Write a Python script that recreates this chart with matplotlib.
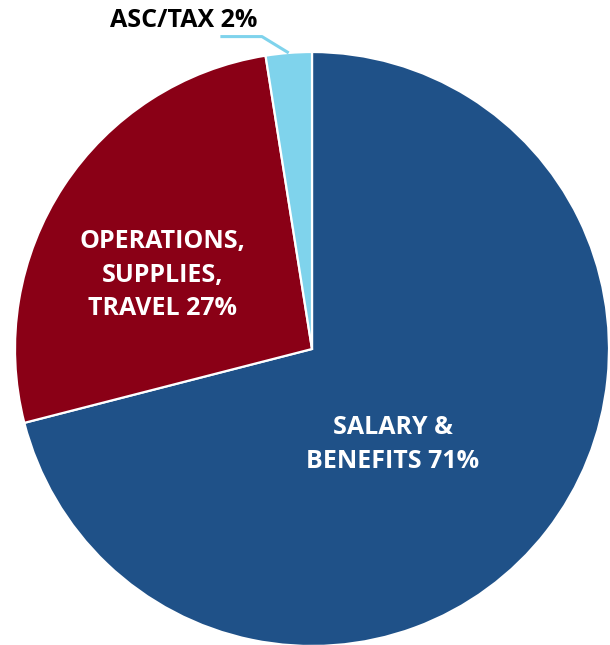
import numpy as np
import matplotlib.pyplot as plt

# budget split
categories = ["SALARY &\nBENEFITS", "OPERATIONS,\nSUPPLIES,\nTRAVEL", "ASC/TAX"]
shares = [71.0, 26.5, 2.5]
pct_labels = ["71%", "27%", "2%"]
colors = ["#1F5188", "#8A0016", "#7FD3EC"]

plt.rcParams['font.family'] = ['Open Sans', 'DejaVu Sans']

W, H = 610, 645
cx, cy, R = 312, 349, 297
fig = plt.figure(figsize=(W / 100, H / 100), dpi=100)
ax = fig.add_axes([0, 0, 1, 1])

wedges, _ = ax.pie(shares, colors=colors, startangle=90, counterclock=False,
                   radius=1.0, wedgeprops=dict(edgecolor='white', linewidth=1.6))
ax.set_xlim(-cx / R, (W - cx) / R)
ax.set_ylim(-(H - cy) / R, cy / R)
ax.set_aspect('equal')
ax.axis('off')

# labels inside the two big slices (radius, angle offset from slice middle)
label_pos = [(0.42, -12), (0.56, 7)]
for w, cat, pct, (r, dang) in zip(wedges[:2], categories[:2], pct_labels[:2], label_pos):
    ang = np.deg2rad((w.theta1 + w.theta2) / 2 + dang)
    lines = cat.split("\n")
    lines[-1] = lines[-1] + " " + pct
    ax.text(r * np.cos(ang), r * np.sin(ang), "\n".join(lines), ha='center', va='center',
            color='white', fontsize=18, fontweight='bold', linespacing=1.45)

# small slice: leader line and outside label
w = wedges[2]
ang = np.deg2rad((w.theta1 + w.theta2) / 2)
x0, y0 = np.cos(ang), np.sin(ang)
elbow = (x0 - 0.09, y0 + 0.055)
end = (elbow[0] - 0.14, elbow[1])
ax.plot([x0, elbow[0], end[0]], [y0, elbow[1], end[1]], color=colors[2], lw=2.2,
        solid_capstyle='butt')
ax.text(end[0] + 0.125, end[1] + 0.012, f"{categories[2]} {pct_labels[2]}", ha='right',
        va='bottom', color='black', fontsize=18, fontweight='bold')

fig.savefig("out.png", dpi=100)
